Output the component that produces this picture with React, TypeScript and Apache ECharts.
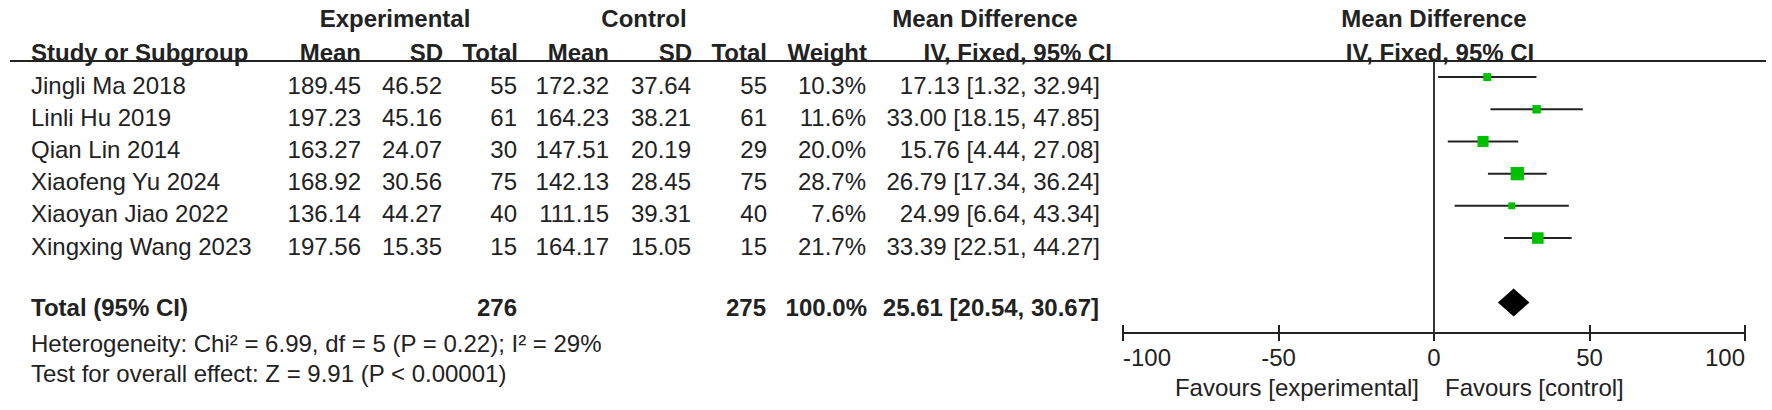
import React, { useEffect, useRef } from "react";
import * as echarts from "echarts";

// ---------- data ----------
const studies = [
  "Jingli Ma 2018",
  "Linli Hu 2019",
  "Qian Lin 2014",
  "Xiaofeng Yu 2024",
  "Xiaoyan Jiao 2022",
  "Xingxing Wang 2023",
];
const expMean = [189.45, 197.23, 163.27, 168.92, 136.14, 197.56];
const expSD = [46.52, 45.16, 24.07, 30.56, 44.27, 15.35];
const expTotal = [55, 61, 30, 75, 40, 15];
const ctlMean = [172.32, 164.23, 147.51, 142.13, 111.15, 164.17];
const ctlSD = [37.64, 38.21, 20.19, 28.45, 39.31, 15.05];
const ctlTotal = [55, 61, 29, 75, 40, 15];
const weights = [10.3, 11.6, 20.0, 28.7, 7.6, 21.7];
const meanDiff = [17.13, 33.0, 15.76, 26.79, 24.99, 33.39];
const ciLow = [1.32, 18.15, 4.44, 17.34, 6.64, 22.51];
const ciHigh = [32.94, 47.85, 27.08, 36.24, 43.34, 44.27];

const pooledMD = 25.61;
const pooledLow = 20.54;
const pooledHigh = 30.67;
const totalExp = 276;
const totalCtl = 275;
const totalWeight = 100.0;

const heterogeneityText = "Heterogeneity: Chi² = 6.99, df = 5 (P = 0.22); I² = 29%";
const overallEffectText = "Test for overall effect: Z = 9.91 (P < 0.00001)";
const favoursLeft = "Favours [experimental]";
const favoursRight = "Favours [control]";

const axisMin = -100;
const axisMax = 100;
const axisInterval = 50;

// ---------- layout ----------
const W = 1772;
const H = 410;
const FONT = '"Liberation Sans", Arial, Helvetica, sans-serif';
const TXT = "#222";
const GREEN = "#00c000";
const gridBox = { left: 1123, right: W - 1745, top: 61, bottom: H - 333 };
const yMin = -0.5;
const yMax = 7.95;
const totalRow = 7;
const rowY = (i: number) => 85 + 32.2 * i;
const totalY = 307;

const txt = (text: string, x: number, y: number, align = "left", bold = false) => ({
  type: "text",
  x,
  y,
  silent: true,
  style: {
    text,
    fill: TXT,
    fontSize: 24,
    fontWeight: bold ? "bold" : "normal",
    fontFamily: FONT,
    align,
    verticalAlign: "middle",
  },
});

export default function App() {
  const ref = useRef<HTMLDivElement>(null);

  useEffect(() => {
    if (!ref.current) return;
    const chart = echarts.init(ref.current, null, { renderer: "svg", width: W, height: H });

    const graphics: any[] = [];
    // top headers
    graphics.push(txt("Experimental", 395, 18, "center", true));
    graphics.push(txt("Control", 644, 18, "center", true));
    graphics.push(txt("Mean Difference", 985, 18, "center", true));
    graphics.push(txt("Mean Difference", 1434, 18, "center", true));
    // column headers
    graphics.push(txt("Study or Subgroup", 31, 52, "left", true));
    graphics.push(txt("Mean", 361, 52, "right", true));
    graphics.push(txt("SD", 443, 52, "right", true));
    graphics.push(txt("Total", 518, 52, "right", true));
    graphics.push(txt("Mean", 609, 52, "right", true));
    graphics.push(txt("SD", 692, 52, "right", true));
    graphics.push(txt("Total", 767, 52, "right", true));
    graphics.push(txt("Weight", 867, 52, "right", true));
    graphics.push(txt("IV, Fixed, 95% CI", 1112, 52, "right", true));
    graphics.push(txt("IV, Fixed, 95% CI", 1440, 52, "center", true));
    // header rule
    graphics.push({
      type: "line",
      silent: true,
      shape: { x1: 10, y1: 61, x2: 1766, y2: 61 },
      style: { stroke: TXT, lineWidth: 2 },
    });
    // study rows
    studies.forEach((s, i) => {
      const y = rowY(i);
      graphics.push(txt(s, 31, y));
      graphics.push(txt(expMean[i].toFixed(2), 361, y, "right"));
      graphics.push(txt(expSD[i].toFixed(2), 442, y, "right"));
      graphics.push(txt(String(expTotal[i]), 517, y, "right"));
      graphics.push(txt(ctlMean[i].toFixed(2), 609, y, "right"));
      graphics.push(txt(ctlSD[i].toFixed(2), 691, y, "right"));
      graphics.push(txt(String(ctlTotal[i]), 767, y, "right"));
      graphics.push(txt(weights[i].toFixed(1) + "%", 866, y, "right"));
      graphics.push(
        txt(
          `${meanDiff[i].toFixed(2)} [${ciLow[i].toFixed(2)}, ${ciHigh[i].toFixed(2)}]`,
          1100,
          y,
          "right"
        )
      );
    });
    // total row
    graphics.push(txt("Total (95% CI)", 31, totalY, "left", true));
    graphics.push(txt(String(totalExp), 517, totalY, "right", true));
    graphics.push(txt(String(totalCtl), 766, totalY, "right", true));
    graphics.push(txt(totalWeight.toFixed(1) + "%", 867, totalY, "right", true));
    graphics.push(
      txt(
        `${pooledMD.toFixed(2)} [${pooledLow.toFixed(2)}, ${pooledHigh.toFixed(2)}]`,
        1099,
        totalY,
        "right",
        true
      )
    );
    graphics.push(txt(heterogeneityText, 31, 343));
    graphics.push(txt(overallEffectText, 31, 373));
    // favours
    graphics.push(txt(favoursLeft, 1419, 387, "right"));
    graphics.push(txt(favoursRight, 1445, 387, "left"));

    const studyData = studies.map((_, i) => [ciLow[i], ciHigh[i], meanDiff[i], weights[i], i]);
    const pooledData = [[pooledLow, pooledHigh, pooledMD, totalRow]];

    const option: any = {
      animation: false,
      backgroundColor: "#fff",
      textStyle: { fontFamily: FONT },
      grid: [
        { ...gridBox, containLabel: false },
        { ...gridBox, containLabel: false },
      ],
      xAxis: [
        {
          type: "value",
          gridIndex: 0,
          min: axisMin,
          max: axisMax,
          interval: axisInterval,
          axisLine: { show: true, onZero: false, lineStyle: { color: TXT, width: 2 } },
          axisTick: { show: true, inside: false, length: 8, lineStyle: { color: TXT, width: 2 } },
          axisLabel: {
            show: true,
            fontSize: 24,
            color: TXT,
            fontFamily: FONT,
            margin: 12,
            alignMinLabel: "left",
            alignMaxLabel: "right",
          },
          splitLine: { show: false },
        },
        {
          type: "value",
          gridIndex: 1,
          min: axisMin,
          max: axisMax,
          interval: axisInterval,
          axisLine: { show: true, onZero: false, lineStyle: { color: TXT, width: 2 } },
          axisTick: { show: true, inside: true, length: 8, lineStyle: { color: TXT, width: 2 } },
          axisLabel: { show: false },
          splitLine: { show: false },
        },
      ],
      yAxis: [
        { type: "value", gridIndex: 0, inverse: true, min: yMin, max: yMax, show: false },
        { type: "value", gridIndex: 1, inverse: true, min: yMin, max: yMax, show: false },
      ],
      graphic: graphics,
      series: [
        {
          type: "custom",
          xAxisIndex: 0,
          yAxisIndex: 0,
          silent: true,
          data: studyData,
          encode: { x: [0, 1, 2], y: 4 },
          renderItem: (params: any, api: any) => {
            const lo = api.value(0);
            const hi = api.value(1);
            const m = api.value(2);
            const w = api.value(3);
            const row = api.value(4);
            const p1 = api.coord([lo, row]);
            const p2 = api.coord([hi, row]);
            const c = api.coord([m, row]);
            const s = 2.48 * Math.sqrt(w);
            return {
              type: "group",
              children: [
                {
                  type: "line",
                  shape: { x1: p1[0], y1: p1[1], x2: p2[0], y2: p2[1] },
                  style: { stroke: TXT, lineWidth: 2 },
                },
                {
                  type: "rect",
                  shape: { x: c[0] - s / 2, y: c[1] - s / 2, width: s, height: s },
                  style: { fill: GREEN },
                },
              ],
            };
          },
          markLine: {
            silent: true,
            symbol: "none",
            label: { show: false },
            lineStyle: { color: "#333", width: 2, type: "solid" },
            data: [{ xAxis: 0 }],
          },
        },
        {
          type: "custom",
          xAxisIndex: 0,
          yAxisIndex: 0,
          silent: true,
          data: pooledData,
          encode: { x: [0, 1, 2], y: 3 },
          renderItem: (params: any, api: any) => {
            const lo = api.value(0);
            const hi = api.value(1);
            const m = api.value(2);
            const row = api.value(3);
            const pl = api.coord([lo, row]);
            const ph = api.coord([hi, row]);
            const pc = api.coord([m, row]);
            const hh = 14;
            return {
              type: "polygon",
              shape: {
                points: [
                  [pl[0], pl[1]],
                  [pc[0], pc[1] - hh],
                  [ph[0], ph[1]],
                  [pc[0], pc[1] + hh],
                ],
              },
              style: { fill: "#000" },
            };
          },
        },
      ],
    };

    chart.setOption(option);
    return () => {
      chart.dispose();
    };
  }, []);

  return (
    <div
      ref={ref}
      style={{ position: "absolute", left: 0, top: 0, width: W, height: H, background: "#fff" }}
    />
  );
}
